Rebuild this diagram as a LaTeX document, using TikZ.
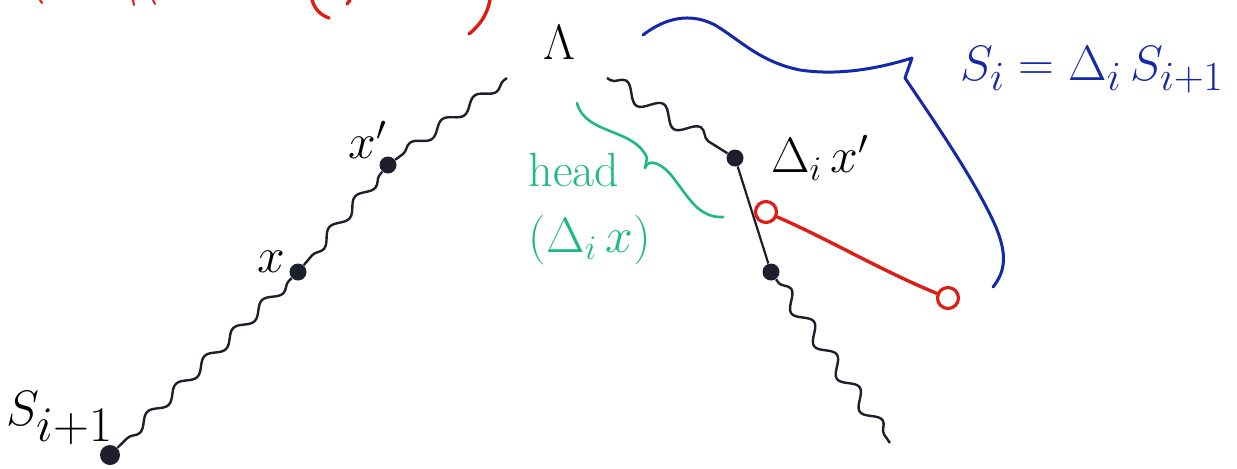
\documentclass[tikz,border=0pt]{standalone}
\usetikzlibrary{decorations.pathmorphing}
\definecolor{ink}{RGB}{30,30,45}
\definecolor{penred}{RGB}{220,30,20}
\definecolor{penblue}{RGB}{20,40,170}
\definecolor{pengreen}{RGB}{30,185,130}
\begin{document}
\begin{tikzpicture}[x=0.5pt,y=-0.5pt,
  dot/.style={circle,fill=ink,inner sep=0pt,minimum size=8.5pt},
  bigdot/.style={circle,fill=ink,inner sep=0pt,minimum size=10pt},
  ocirc/.style={circle,draw=penred,line width=1.6pt,inner sep=0pt,minimum size=10.5pt},
  wavy/.style={draw=ink,line width=1.2pt,decorate,decoration={snake,amplitude=2.5pt,segment length=20pt,pre length=2pt,post length=2pt}},
  plain/.style={draw=ink,line width=1.1pt},
  redpen/.style={draw=penred,line width=1.7pt,line cap=round},
  bluepen/.style={draw=penblue,line width=1.5pt,line cap=round,line join=round},
  greenpen/.style={draw=pengreen,line width=1.3pt,line cap=round,line join=round},
  lbl/.style={inner sep=1pt}]
\useasboundingbox (0,0) rectangle (1237,468);

% red fragments at the cut top edge
\draw[redpen] (490,0) .. controls (487,15) and (480,25) .. (469,34);
\draw[redpen] (312,0) .. controls (315,10) and (321,15) .. (329,18);
\draw[redpen] (347,4) -- (350,0);
\draw[redpen,line width=1pt] (40,0) -- (42,3);
\draw[redpen,line width=1pt] (133,0) -- (134,5);
\draw[redpen,line width=1pt] (153,0) -- (155,4);

% nodes
\node[lbl] (lam) at (559,42) {\fontsize{42}{46}\selectfont$\Lambda$};
\coordinate (lt) at (507,78);
\coordinate (rt) at (607,78);
\node[dot] (xp) at (388,165) {};
\node[dot] (x) at (298,272) {};
\node[bigdot] (s1) at (110,455) {};
\node[dot] (a) at (735,158) {};
\node[dot] (b) at (771,272) {};
\coordinate (re) at (890,443);
\node[ocirc] (r1) at (766,212) {};
\node[ocirc] (r2) at (948,298) {};

% left chain
\draw[wavy] (lt) -- (xp);
\draw[wavy] (xp) -- (x);
\draw[wavy] (x) -- (s1);
% right chain
\draw[wavy,decoration={amplitude=4pt,segment length=22pt}] (rt) -- (a);
\draw[plain] (a) -- (b);
\draw[wavy,decoration={amplitude=3.5pt,segment length=20pt}] (b) -- (re);
% red segment
\draw[redpen] (r1) .. controls (830,240) and (880,270) .. (r2);

% labels
\node[lbl] (lxp) at (368,140) {\fontsize{26}{30}\selectfont$x'$};
\node[lbl] (lx) at (271,262) {\fontsize{26}{30}\selectfont$x$};
\node[lbl] (ls) at (60,418) {\fontsize{46}{50}\selectfont$S_{\scriptscriptstyle i+1}$};
\node[lbl] (la) at (820,158) {\fontsize{26}{30}\selectfont$\Delta_i\, x'$};

% blue brace and text
\draw[bluepen] (643,35) .. controls (665,18) and (690,12) .. (715,25)
  .. controls (740,40) and (760,62) .. (800,70)
  .. controls (840,76) and (880,68) .. (912,58)
  -- (905,78)
  .. controls (930,115) and (975,180) .. (995,225)
  .. controls (1008,255) and (1005,272) .. (993,287);
\node[lbl,text=penblue] (ls2) at (1092,70) {\fontsize{32}{36}\selectfont$S_i = \Delta_i\, S_{i+1}$};

% green brace and text
\draw[greenpen] (577,103) .. controls (585,135) and (635,128) .. (647,158) -- (645,168);
\draw[greenpen] (645,168) .. controls (648,158) and (662,162) .. (675,180)
  .. controls (690,200) and (700,218) .. (723,217);
\node[lbl,text=pengreen] (lh) at (574,170) {\fontsize{24}{28}\selectfont head};
\node[lbl,text=pengreen] (lhx) at (590,240) {\fontsize{24}{28}\selectfont$(\Delta_i\, x)$};
\end{tikzpicture}
\end{document}
